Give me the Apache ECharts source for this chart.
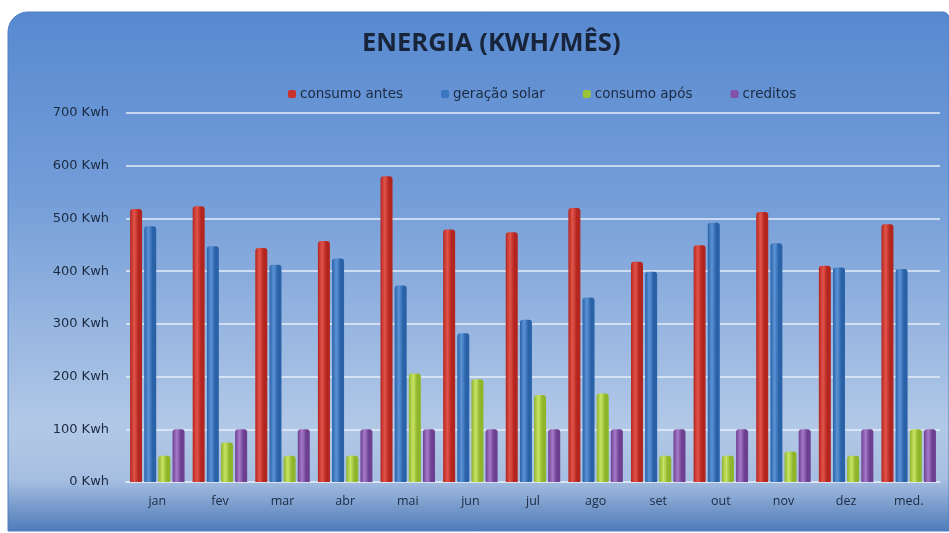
<!DOCTYPE html>
<html>
<head>
<meta charset="utf-8">
<script src="https://cdn.jsdelivr.net/npm/echarts@6/dist/echarts.min.js"></script>
<style>
  html, body { margin: 0; padding: 0; background: #ffffff; }
  #chart { width: 949px; height: 533px; }
</style>
</head>
<body>
<div id="chart"></div>
<script>
// Monthly energy figures (kWh)
const months = ['jan', 'fev', 'mar', 'abr', 'mai', 'jun', 'jul', 'ago', 'set', 'out', 'nov', 'dez', 'med.'];
const consumoAntes = [518, 523, 444, 457, 580, 479, 474, 520, 418, 449, 512, 410, 489];
const geracaoSolar = [485, 447, 412, 424, 373, 282, 308, 350, 399, 492, 453, 407, 404];
const consumoApos  = [50, 75, 50, 50, 206, 195, 165, 168, 50, 50, 58, 50, 100];
const creditos     = [100, 100, 100, 100, 100, 100, 100, 100, 100, 100, 100, 100, 100];
const yTicks = [0, 100, 200, 300, 400, 500, 600, 700];

// Cylinder-like horizontal shading for each bar colour
function cyl(dark, light) {
  return new echarts.graphic.LinearGradient(0, 0, 1, 0, [
    { offset: 0, color: dark },
    { offset: 0.35, color: light },
    { offset: 0.7, color: dark },
    { offset: 1, color: dark }
  ]);
}

const chart = echarts.init(document.getElementById('chart'), null, { renderer: 'canvas' });

const bar = (name, data, dark, light) => ({
  name: name,
  type: 'bar',
  data: data,
  barWidth: 12,
  barGap: '18%',
  barCategoryGap: '16%',
  itemStyle: { color: cyl(dark, light), borderRadius: [3, 3, 0, 0] }
});

chart.setOption({
  backgroundColor: '#ffffff',
  animation: false,
  graphic: [{
    type: 'rect',
    z: -10,
    shape: { x: 8, y: 12, width: 941, height: 519, r: [20, 6, 0, 0] },
    style: {
      fill: new echarts.graphic.LinearGradient(0, 0, 0, 1, [
        { offset: 0, color: '#5889d0' },
        { offset: 0.35, color: '#739dd8' },
        { offset: 0.8, color: '#b2c8e7' },
        { offset: 0.9, color: '#a6bee1' },
        { offset: 1, color: '#4f7bb9' }
      ]),
      stroke: '#4c7ec4',
      lineWidth: 1
    }
  }],
  title: {
    text: 'ENERGIA (KWH/MÊS)',
    left: 357,
    top: 26,
    textStyle: { fontFamily: 'Open Sans', fontWeight: 'bold', fontSize: 25.5, color: '#17243a' }
  },
  legend: {
    top: 82,
    left: 283,
    itemWidth: 8,
    itemHeight: 8,
    itemGap: 38,
    icon: 'roundRect',
    textStyle: { fontFamily: 'DejaVu Sans', fontSize: 13.5, color: '#1b2a40', padding: [0, 0, 0, -1] },
    data: [
      { name: 'consumo antes', itemStyle: { color: '#c9332b' } },
      { name: 'geração solar', itemStyle: { color: '#3a75c0' } },
      { name: 'consumo após', itemStyle: { color: '#9cc23a' } },
      { name: 'creditos', itemStyle: { color: '#8352a8' } }
    ]
  },
  grid: { left: 126, right: 9, top: 113, bottom: 51 },
  xAxis: {
    type: 'category',
    data: months,
    axisLine: { show: true, lineStyle: { color: '#dbe5f3', width: 1.5 } },
    axisTick: { show: false },
    axisLabel: { fontFamily: 'Open Sans', fontSize: 12.5, color: '#1b2a40', margin: 13 }
  },
  yAxis: {
    type: 'value',
    min: yTicks[0],
    max: yTicks[yTicks.length - 1],
    interval: 100,
    axisLine: { show: false },
    axisTick: { show: false },
    splitLine: { lineStyle: { color: '#e6eef9', width: 1.5 } },
    axisLabel: {
      formatter: '{value} Kwh',
      fontFamily: 'DejaVu Sans',
      fontSize: 13,
      color: '#1b2a40',
      margin: 17
    }
  },
  series: [
    bar('consumo antes', consumoAntes, '#b3261f', '#e2544a'),
    bar('geração solar', geracaoSolar, '#2a62a8', '#5b93d6'),
    bar('consumo após', consumoApos, '#8fb52b', '#c8e466'),
    bar('creditos', creditos, '#6d3f91', '#a77ac9')
  ]
});
</script>
</body>
</html>
